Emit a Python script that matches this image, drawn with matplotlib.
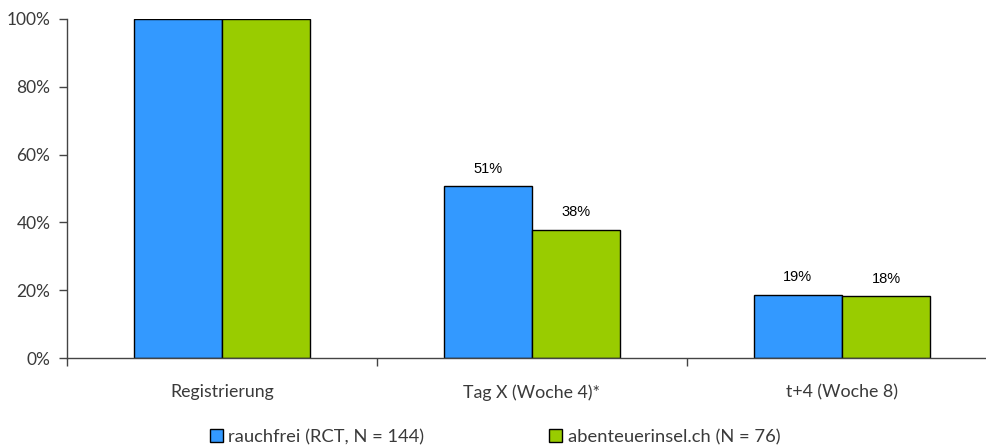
import matplotlib
matplotlib.use("Agg")
import matplotlib.pyplot as plt
import numpy as np

categories = ["Registrierung", "Tag X (Woche 4)*", "t+4 (Woche 8)"]
series_names = ["rauchfrei (RCT, N = 144)", "abenteuerinsel.ch (N = 76)"]
rauchfrei = [1.00, 0.507, 0.187]
abenteuer = [1.00, 0.378, 0.183]
show_label = [False, True, True]
yticks = [0, 0.2, 0.4, 0.6, 0.8, 1.0]
ytick_labels = ["0%", "20%", "40%", "60%", "80%", "100%"]
colors = ["#3399FF", "#99CC00"]

FONT = dict(family="Lato", weight="normal")

fig = plt.figure(figsize=(9.87, 4.48), dpi=100)
ax = fig.add_axes([67/987, 90/448, 930/987, 339/448])

x = np.arange(len(categories))
w = 0.285
b1 = ax.bar(x - w/2, rauchfrei, w, color=colors[0], edgecolor="black", linewidth=1, label=series_names[0])
b2 = ax.bar(x + w/2, abenteuer, w, color=colors[1], edgecolor="black", linewidth=1, label=series_names[1])

for bars, vals in ((b1, rauchfrei), (b2, abenteuer)):
    for i, (bar, v) in enumerate(zip(bars, vals)):
        if show_label[i]:
            ax.annotate(f"{round(v*100):.0f}%", (bar.get_x() + bar.get_width()/2, v),
                        xytext=(0, 7.5), textcoords="offset points", ha="center", va="bottom",
                        fontsize=10.5, family="Liberation Sans", color="black")

ax.set_xlim(-0.5, 2.5)
ax.set_ylim(0, 1.0)
ax.set_yticks(yticks)
ax.set_yticklabels(ytick_labels, fontsize=12.5, color="#3a3a3a", **FONT)
ax.set_xticks([-0.5, 0.5, 1.5, 2.5])
ax.set_xticklabels([])
ax.set_xticks(x, minor=True)
ax.set_xticklabels(categories, minor=True, fontsize=12.8, color="#3a3a3a", **FONT)
ax.tick_params(axis="x", which="minor", length=0, pad=19)
ax.tick_params(axis="x", which="major", length=6, width=1, color="#444444", direction="out")
ax.tick_params(axis="y", length=6, width=1, color="#444444", pad=6)
for s in ("top", "right"):
    ax.spines[s].set_visible(False)
for s in ("left", "bottom"):
    ax.spines[s].set_color("#444444")
    ax.spines[s].set_linewidth(1)

leg = fig.legend(handles=[b1, b2], labels=series_names, loc="center", bbox_to_anchor=(495/987, 1 - 437/448),
                 ncol=2, frameon=False, prop={"family": "Lato", "weight": "normal", "size": 13.2},
                 handlelength=0.72, handleheight=0.72, handletextpad=0.3, columnspacing=6.8)
for t in leg.get_texts():
    t.set_color("#3a3a3a")

fig.savefig("out.png", dpi=100)
